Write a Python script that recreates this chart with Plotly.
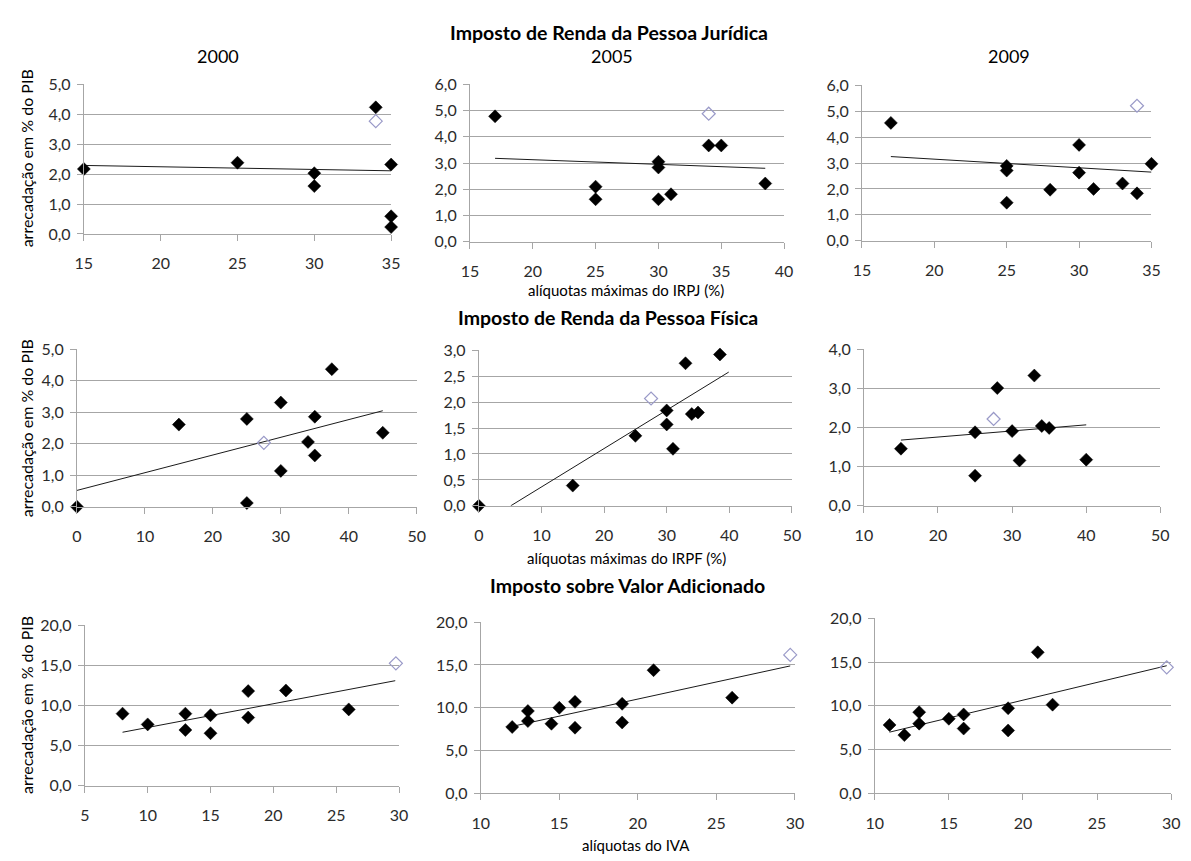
import plotly.graph_objects as go

W, H = 1191, 861

# ---------------- data ----------------
# IRPJ (x: alíquota máxima %, y: arrecadação % PIB)
irpj_2000_x = [15, 25, 30, 30, 34, 35, 35, 35]
irpj_2000_y = [2.17, 2.38, 2.03, 1.60, 4.23, 2.32, 0.59, 0.23]
irpj_2000_bx, irpj_2000_by = [34], [3.77]
irpj_2000_tx, irpj_2000_ty = [15, 35], [2.29, 2.11]

irpj_2005_x = [17, 25, 25, 30, 30, 30, 31, 34, 35, 38.5]
irpj_2005_y = [4.78, 2.10, 1.62, 3.05, 2.83, 1.62, 1.81, 3.67, 3.67, 2.22]
irpj_2005_bx, irpj_2005_by = [34], [4.88]
irpj_2005_tx, irpj_2005_ty = [17, 38.5], [3.18, 2.80]

irpj_2009_x = [17, 25, 25, 25, 28, 30, 30, 31, 33, 34, 35]
irpj_2009_y = [4.55, 2.89, 2.71, 1.47, 1.97, 3.70, 2.63, 2.00, 2.21, 1.83, 2.97]
irpj_2009_bx, irpj_2009_by = [34], [5.21]
irpj_2009_tx, irpj_2009_ty = [17, 35], [3.25, 2.65]

# IRPF
irpf_2000_x = [0, 15, 25, 25, 30, 30, 34, 35, 35, 37.5, 45]
irpf_2000_y = [0.0, 2.61, 2.79, 0.12, 3.31, 1.14, 2.06, 2.86, 1.63, 4.37, 2.35]
irpf_2000_bx, irpf_2000_by = [27.5], [2.03]
irpf_2000_tx, irpf_2000_ty = [0, 45], [0.52, 3.05]

irpf_2005_x = [0, 15, 25, 30, 30, 31, 33, 34, 35, 38.5]
irpf_2005_y = [0.0, 0.39, 1.35, 1.84, 1.57, 1.10, 2.75, 1.77, 1.80, 2.92]
irpf_2005_bx, irpf_2005_by = [27.5], [2.07]
irpf_2005_tx, irpf_2005_ty = [5.1, 39.9], [0.0, 2.58]

irpf_2009_x = [15, 25, 25, 28, 30, 31, 33, 34, 35, 40]
irpf_2009_y = [1.46, 1.88, 0.77, 3.01, 1.91, 1.16, 3.33, 2.04, 1.99, 1.18]
irpf_2009_bx, irpf_2009_by = [27.5], [2.22]
irpf_2009_tx, irpf_2009_ty = [15, 40], [1.68, 2.07]

# IVA
iva_2000_x = [8, 10, 13, 13, 15, 15, 18, 18, 21, 26]
iva_2000_y = [8.96, 7.62, 8.96, 6.92, 8.76, 6.52, 11.77, 8.47, 11.85, 9.49]
iva_2000_bx, iva_2000_by = [29.75], [15.23]
iva_2000_tx, iva_2000_ty = [8, 29.7], [6.64, 13.07]

iva_2005_x = [12, 13, 13, 14.5, 15, 16, 16, 19, 19, 21, 26]
iva_2005_y = [7.75, 9.62, 8.44, 8.13, 10.0, 10.69, 7.67, 10.46, 8.28, 14.39, 11.18]
iva_2005_bx, iva_2005_by = [29.7], [16.18]
iva_2005_tx, iva_2005_ty = [12, 29.7], [7.82, 14.89]

iva_2009_x = [11, 12, 13, 13, 15, 16, 16, 19, 19, 21, 22]
iva_2009_y = [7.81, 6.65, 9.27, 7.96, 8.52, 9.01, 7.40, 9.72, 7.18, 16.11, 10.13]
iva_2009_bx, iva_2009_by = [29.7], [14.39]
iva_2009_tx, iva_2009_ty = [11, 29.7], [6.99, 14.58]

panels = [
    (irpj_2000_x, irpj_2000_y, irpj_2000_bx, irpj_2000_by, irpj_2000_tx, irpj_2000_ty, [15, 35], 5, [0, 5], 1, (76, 388, 76, 229)),
    (irpj_2005_x, irpj_2005_y, irpj_2005_bx, irpj_2005_by, irpj_2005_tx, irpj_2005_ty, [15, 40], 5, [0, 6], 1, (468, 787, 76, 237)),
    (irpj_2009_x, irpj_2009_y, irpj_2009_bx, irpj_2009_by, irpj_2009_tx, irpj_2009_ty, [15, 35], 5, [0, 6], 1, (866, 1160, 77, 236)),
    (irpf_2000_x, irpf_2000_y, irpf_2000_bx, irpf_2000_by, irpf_2000_tx, irpf_2000_ty, [0, 50], 10, [0, 5], 1, (69, 414, 347, 508)),
    (irpf_2005_x, irpf_2005_y, irpf_2005_bx, irpf_2005_by, irpf_2005_tx, irpf_2005_ty, [0, 50], 10, [0, 3], 0.5, (477, 795, 348, 507)),
    (irpf_2009_x, irpf_2009_y, irpf_2009_bx, irpf_2009_by, irpf_2009_tx, irpf_2009_ty, [10, 50], 10, [0, 4], 1, (868, 1169, 347, 507)),
    (iva_2000_x, iva_2000_y, iva_2000_bx, iva_2000_by, iva_2000_tx, iva_2000_ty, [5, 30], 5, [0, 20], 5, (77, 396, 629, 793)),
    (iva_2005_x, iva_2005_y, iva_2005_bx, iva_2005_by, iva_2005_tx, iva_2005_ty, [10, 30], 5, [0, 20], 5, (479, 798, 626, 801)),
    (iva_2009_x, iva_2009_y, iva_2009_bx, iva_2009_by, iva_2009_tx, iva_2009_ty, [10, 30], 5, [0, 20], 5, (879, 1180, 622, 801)),
]

FONT = "Lato"
TXT = "#2b2b2b"
GRID = "#a6a6a6"


def px_x(p):
    return p / W


def px_y(p):
    return 1 - p / H


fig = go.Figure()
layout = {}
for i, (x, y, bx, by, tx, ty, xr, xd, yr, yd, box) in enumerate(panels, start=1):
    sfx = "" if i == 1 else str(i)
    xa, ya = "x" + sfx, "y" + sfx
    x0, x1, y0, y1 = box
    fig.add_trace(go.Scatter(x=tx, y=ty, mode="lines", xaxis=xa, yaxis=ya,
                             line=dict(color="#1a1a1a", width=1), showlegend=False, hoverinfo="skip"))
    fig.add_trace(go.Scatter(x=x, y=y, mode="markers", xaxis=xa, yaxis=ya, cliponaxis=False,
                             marker=dict(symbol="diamond", size=10, color="black",
                                         line=dict(color="black", width=0.5)),
                             showlegend=False))
    fig.add_trace(go.Scatter(x=bx, y=by, mode="markers", xaxis=xa, yaxis=ya, cliponaxis=False,
                             marker=dict(symbol="diamond-open", size=10, color="#9a9ac8",
                                         line=dict(width=1.2)),
                             showlegend=False))
    layout["xaxis" + sfx] = dict(
        domain=[px_x(x0), px_x(x1)], range=xr, dtick=xd, tick0=xr[0], anchor=ya,
        showgrid=False, zeroline=False, showline=True, linecolor=GRID, linewidth=1,
        ticks="outside", ticklen=6, tickcolor=GRID, ticklabelstandoff=9,
        tickfont=dict(size=16, color=TXT, family=FONT), fixedrange=True)
    layout["yaxis" + sfx] = dict(
        domain=[px_y(y1), px_y(y0)], range=yr, dtick=yd, tick0=0, anchor=xa,
        showgrid=True, gridcolor=GRID, gridwidth=1, zeroline=False,
        showline=True, linecolor=GRID, linewidth=1,
        ticks="outside", ticklen=6, tickcolor=GRID, tickformat=".1f", ticklabelstandoff=3,
        tickfont=dict(size=16, color=TXT, family=FONT), fixedrange=True)

fig.update_layout(**layout)

ann = []


def txt(x, y, s, size=15, bold=False, angle=0):
    ann.append(dict(x=px_x(x), y=px_y(y), xref="paper", yref="paper",
                    text=("<b>%s</b>" % s) if bold else s,
                    showarrow=False, textangle=angle, xanchor="center", yanchor="middle",
                    font=dict(size=size, color="black", family=FONT)))


txt(609, 23, "Imposto de Renda da Pessoa Jurídica", 19.5, True)
txt(212, 47, "2000", 18)
txt(612, 47, "2005", 18)
txt(1015, 47, "2009", 18)
txt(626, 286, "alíquotas máximas do IRPJ (%)", 15)
txt(608, 314, "Imposto de Renda da Pessoa Física", 19.5, True)
txt(627, 560, "alíquotas máximas do IRPF (%)", 15)
txt(628, 588, "Imposto sobre Valor Adicionado", 19.5, True)
txt(637, 854, "alíquotas do IVA", 15)
txt(18, 152, "arrecadação em % do PIB", 16, angle=-90)
txt(18, 428, "arrecadação em % do PIB", 16, angle=-90)
txt(18, 711, "arrecadação em % do PIB", 16, angle=-90)

fig.update_layout(width=W, height=H, margin=dict(l=0, r=0, t=0, b=0),
                  paper_bgcolor="white", plot_bgcolor="white", separators=", ",
                  annotations=ann, font=dict(family=FONT, color=TXT), showlegend=False)

fig.write_html("out.html", config={"displayModeBar": False},
               post_script="document.body.style.margin='0';document.body.style.overflow='hidden';")
